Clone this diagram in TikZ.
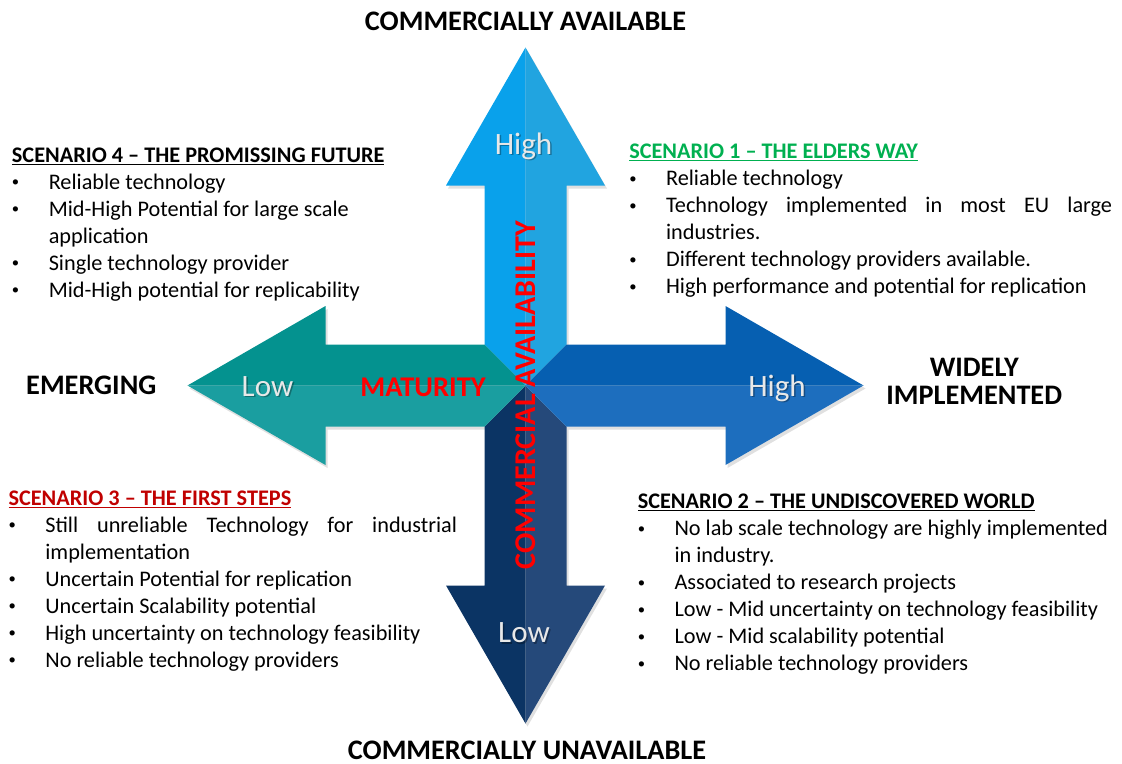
\documentclass[tikz,border=0pt]{standalone}
\usepackage{fontspec}
\setmainfont{Carlito}
\definecolor{upL}{HTML}{09A1EB}
\definecolor{upR}{HTML}{21A4E0}
\definecolor{lfT}{HTML}{04928F}
\definecolor{lfB}{HTML}{1A9EA0}
\definecolor{rtT}{HTML}{065FB1}
\definecolor{rtB}{HTML}{1D6EBE}
\definecolor{dnL}{HTML}{0B3464}
\definecolor{dnR}{HTML}{25497A}
\definecolor{scgreen}{HTML}{00B050}
\definecolor{scred}{HTML}{C00000}
\definecolor{lbl}{HTML}{E8E8E8}
\newcommand{\bul}[1]{\par\noindent\hangindent=27.6pt\hangafter=1\makebox[27.6pt][l]{\raisebox{1.6pt}{\fontsize{11pt}{11pt}\selectfont\textbullet}}#1}
\tikzset{
  body/.style={anchor=base west, inner sep=0pt, font=\fontsize{16.7pt}{20.25pt}\selectfont},
  biglbl/.style={anchor=base, inner sep=0pt, font=\fontsize{21.2pt}{21.2pt}\selectfont\bfseries},
  redlbl/.style={inner sep=0pt, text=red, font=\fontsize{21.4pt}{21.4pt}\selectfont\bfseries},
  arrlbl/.style={anchor=base, inner sep=0pt, text=lbl, font=\fontsize{23.3pt}{23.3pt}\selectfont},
  arrshd/.style={anchor=base, inner sep=0pt, text=black, opacity=0.3, font=\fontsize{23.3pt}{23.3pt}\selectfont},
  shd/.style={fill=black, opacity=0.12}
}
\begin{document}
\begin{tikzpicture}[x=0.75pt,y=-0.75pt]
\useasboundingbox (0,0) rectangle (1122,764);
% shadows of the arms
\begin{scope}[shift={(2,3)}]
\fill[shd] (525.5,385.5) -- (484.5,344.5) -- (484.5,185.5) -- (446,185.5) -- (525.5,47.5) -- (605,185.5) -- (566.5,185.5) -- (566.5,344.5) -- (725.5,344.5) -- (725.5,306) -- (863.5,385.5) -- (725.5,465) -- (725.5,426.5) -- (566.5,426.5) -- (566.5,585.5) -- (605,585.5) -- (525.5,723.5) -- (446,585.5) -- (484.5,585.5) -- (484.5,426.5) -- (325.5,426.5) -- (325.5,465) -- (187.5,385.5) -- (325.5,306) -- (325.5,344.5) -- (484.5,344.5) -- cycle;
\end{scope}
% up arm
\fill[upL] (525.5,385.5) -- (484.5,344.5) -- (484.5,185.5) -- (446,185.5) -- (525.5,47.5) -- cycle;
\fill[upR] (525.5,385.5) -- (566.5,344.5) -- (566.5,185.5) -- (605,185.5) -- (525.5,47.5) -- cycle;
% down arm
\fill[dnL] (525.5,385.5) -- (484.5,426.5) -- (484.5,585.5) -- (446,585.5) -- (525.5,723.5) -- cycle;
\fill[dnR] (525.5,385.5) -- (566.5,426.5) -- (566.5,585.5) -- (605,585.5) -- (525.5,723.5) -- cycle;
% left arm
\fill[lfT] (525.5,385.5) -- (484.5,344.5) -- (325.5,344.5) -- (325.5,306) -- (187.5,385.5) -- cycle;
\fill[lfB] (525.5,385.5) -- (484.5,426.5) -- (325.5,426.5) -- (325.5,465) -- (187.5,385.5) -- cycle;
% right arm
\fill[rtT] (525.5,385.5) -- (566.5,344.5) -- (725.5,344.5) -- (725.5,306) -- (863.5,385.5) -- cycle;
\fill[rtB] (525.5,385.5) -- (566.5,426.5) -- (725.5,426.5) -- (725.5,465) -- (863.5,385.5) -- cycle;

% arm labels
\node[arrshd] (hiups) at (525,155.5) {High};
\node[arrlbl] (hiup) at (523.5,154) {High};
\node[arrshd] (lowls) at (269,397.5) {Low};
\node[arrlbl] (lowl) at (267.5,396) {Low};
\node[arrshd] (hirs) at (778.5,397.5) {High};
\node[arrlbl] (hir) at (777,396) {High};
\node[arrshd] (lowds) at (525.5,644.2) {Low};
\node[arrlbl] (lowd) at (524,642.7) {Low};

% red axis labels
\node[redlbl] (mat) at (423,387) {MATURITY};
\node[redlbl, rotate=90, font=\fontsize{22.6pt}{22.6pt}\selectfont\bfseries] (comav) at (525.5,395) {COMMERCIAL AVAILABILITY};

% end labels
\node[biglbl] (top) at (525.5,30.7) {COMMERCIALLY AVAILABLE};
\node[biglbl] (bot) at (527,759) {COMMERCIALLY UNAVAILABLE};
\node[biglbl] (emg) at (91.3,394.3) {EMERGING};
\node[biglbl] (wid1) at (974.2,376) {WIDELY};
\node[biglbl] (wid2) at (974.2,404) {IMPLEMENTED};

% scenario 4
\node[body] (sc4) at (11.7,162) {\begin{minipage}[t]{330pt}
\textbf{\underline{SCENARIO 4 – THE PROMISSING FUTURE}}
\bul{Reliable technology}
\bul{Mid-High Potential for large scale\\application}
\bul{Single technology provider}
\bul{Mid-High potential for replicability}
\end{minipage}};

% scenario 1
\node[body] (sc1) at (629,158.3) {\begin{minipage}[t]{370pt}
\textcolor{scgreen}{\textbf{\underline{SCENARIO 1 – THE ELDERS WAY}}}
\bul{Reliable technology}
\bul{\makebox[334.5pt][s]{Technology implemented in most EU large}\\industries.}
\bul{Different technology providers available.}
\bul{High performance and potential for replication}
\end{minipage}};

% scenario 3
\node[body] (sc3) at (8.3,505) {\begin{minipage}[t]{345pt}
\textcolor{scred}{\textbf{\underline{SCENARIO 3 – THE FIRST STEPS}}}
\bul{\makebox[308.8pt][s]{Still unreliable Technology for industrial}\\implementation}
\bul{Uncertain Potential for replication}
\bul{Uncertain Scalability potential}
\bul{High uncertainty on technology feasibility}
\bul{No reliable technology providers}
\end{minipage}};

% scenario 2
\node[body] (sc2) at (637.5,508.3) {\begin{minipage}[t]{370pt}
\textbf{\underline{SCENARIO 2 – THE UNDISCOVERED WORLD}}
\bul{No lab scale technology are highly implemented\\in industry.}
\bul{Associated to research projects}
\bul{Low - Mid uncertainty on technology feasibility}
\bul{Low - Mid scalability potential}
\bul{No reliable technology providers}
\end{minipage}};
\end{tikzpicture}
\end{document}
